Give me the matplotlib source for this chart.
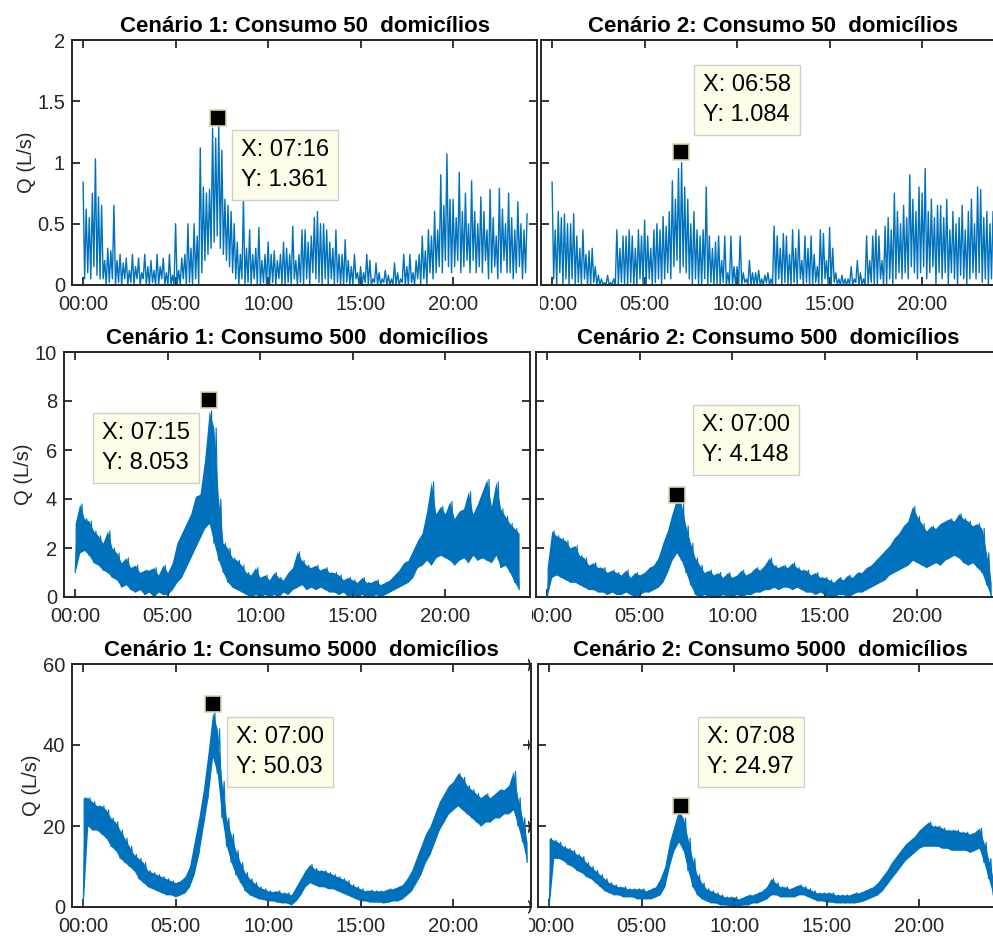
import numpy as np
import matplotlib
matplotlib.use('Agg')
import matplotlib.pyplot as plt
from matplotlib.transforms import Bbox, TransformedBbox

plt.rcParams['font.family'] = ['Liberation Sans', 'DejaVu Sans']

# time axes in hours: 5 min steps for the 50 households runs, 15 min for the others
t5 = np.arange(289) / 12.0
t = np.arange(97) / 4.0

# 50 households: trace read every 5 min (spiky, alternating peaks and gaps)
c1_50 = [0.84, 0.05, 0.62, 0.10, 0.55, 0.05, 0.75, 0.15, 1.03, 0.08, 0.72, 0.05,
         0.65, 0.05, 0.20, 0.00, 0.30, 0.02, 0.28, 0.05, 0.65, 0.00, 0.20, 0.02,
         0.25, 0.00, 0.18, 0.05, 0.22, 0.00, 0.12, 0.02, 0.25, 0.00, 0.15, 0.05,
         0.22, 0.00, 0.10, 0.05, 0.25, 0.00, 0.15, 0.00, 0.20, 0.02, 0.12, 0.00,
         0.25, 0.00, 0.15, 0.05, 0.22, 0.00, 0.10, 0.00, 0.25, 0.00, 0.08, 0.00,
         0.50, 0.00, 0.12, 0.00, 0.22, 0.05, 0.25, 0.00, 0.50, 0.02, 0.30, 0.00,
         0.50, 0.05, 0.40, 0.00, 1.12, 0.10, 0.80, 0.20, 0.75, 0.25, 0.78, 0.30,
         1.28, 0.35, 1.20, 0.40, 1.30, 0.30, 1.10, 0.25, 0.70, 0.20, 0.65, 0.15,
         0.60, 0.10, 0.50, 0.05, 0.35, 0.00, 0.25, 0.05, 0.70, 0.00, 0.30, 0.02,
         0.45, 0.00, 0.25, 0.05, 0.30, 0.00, 0.47, 0.00, 0.20, 0.02, 0.25, 0.00,
         0.35, 0.00, 0.25, 0.02, 0.28, 0.00, 0.20, 0.05, 0.25, 0.00, 0.35, 0.00,
         0.30, 0.02, 0.25, 0.00, 0.48, 0.05, 0.20, 0.00, 0.25, 0.02, 0.45, 0.00,
         0.45, 0.05, 0.35, 0.00, 0.40, 0.10, 0.55, 0.05, 0.60, 0.02, 0.50, 0.00,
         0.50, 0.05, 0.45, 0.00, 0.35, 0.05, 0.30, 0.00, 0.45, 0.02, 0.25, 0.00,
         0.25, 0.00, 0.37, 0.02, 0.20, 0.00, 0.15, 0.00, 0.25, 0.05, 0.10, 0.00,
         0.15, 0.00, 0.10, 0.02, 0.25, 0.00, 0.20, 0.00, 0.05, 0.02, 0.18, 0.00,
         0.10, 0.00, 0.05, 0.02, 0.12, 0.00, 0.08, 0.00, 0.05, 0.00, 0.18, 0.00,
         0.10, 0.00, 0.05, 0.02, 0.25, 0.00, 0.15, 0.00, 0.25, 0.02, 0.10, 0.00,
         0.20, 0.05, 0.25, 0.00, 0.40, 0.05, 0.28, 0.00, 0.45, 0.10, 0.40, 0.05,
         0.60, 0.10, 0.45, 0.15, 0.90, 0.10, 0.65, 0.20, 1.07, 0.15, 0.70, 0.10,
         0.70, 0.15, 0.55, 0.20, 0.92, 0.10, 0.60, 0.15, 0.75, 0.20, 0.50, 0.10,
         0.85, 0.20, 0.60, 0.10, 0.50, 0.15, 0.72, 0.10, 0.60, 0.20, 0.45, 0.05,
         0.78, 0.10, 0.55, 0.15, 0.40, 0.05, 0.79, 0.10, 0.62, 0.20, 0.50, 0.10,
         0.75, 0.10, 0.55, 0.05, 0.45, 0.10, 0.68, 0.15, 0.50, 0.05, 0.45, 0.10,
         0.58]
c2_50 = [0.84, 0.05, 0.45, 0.00, 0.60, 0.10, 0.55, 0.00, 0.58, 0.05, 0.50, 0.00,
         0.50, 0.05, 0.58, 0.00, 0.40, 0.02, 0.30, 0.00, 0.45, 0.05, 0.25, 0.00,
         0.28, 0.00, 0.30, 0.02, 0.15, 0.00, 0.08, 0.00, 0.05, 0.00, 0.02, 0.00,
         0.08, 0.00, 0.02, 0.00, 0.05, 0.00, 0.45, 0.00, 0.30, 0.02, 0.40, 0.00,
         0.40, 0.00, 0.45, 0.02, 0.40, 0.00, 0.30, 0.00, 0.45, 0.05, 0.40, 0.00,
         0.53, 0.00, 0.40, 0.05, 0.30, 0.00, 0.45, 0.02, 0.50, 0.05, 0.45, 0.00,
         0.56, 0.05, 0.48, 0.10, 0.60, 0.05, 0.85, 0.15, 0.70, 0.20, 0.95, 0.10,
         1.00, 0.15, 0.80, 0.10, 0.70, 0.05, 0.50, 0.00, 0.60, 0.05, 0.45, 0.00,
         0.40, 0.00, 0.45, 0.05, 0.80, 0.00, 0.40, 0.02, 0.30, 0.00, 0.35, 0.00,
         0.40, 0.00, 0.20, 0.02, 0.40, 0.00, 0.10, 0.00, 0.40, 0.00, 0.15, 0.00,
         0.15, 0.00, 0.40, 0.00, 0.10, 0.02, 0.05, 0.00, 0.20, 0.00, 0.10, 0.00,
         0.10, 0.00, 0.12, 0.00, 0.05, 0.00, 0.08, 0.02, 0.10, 0.00, 0.05, 0.00,
         0.48, 0.00, 0.40, 0.05, 0.30, 0.00, 0.42, 0.02, 0.40, 0.00, 0.25, 0.00,
         0.45, 0.02, 0.30, 0.00, 0.45, 0.05, 0.20, 0.00, 0.40, 0.02, 0.30, 0.00,
         0.40, 0.00, 0.25, 0.02, 0.15, 0.00, 0.45, 0.00, 0.42, 0.05, 0.20, 0.00,
         0.47, 0.00, 0.30, 0.02, 0.10, 0.00, 0.05, 0.00, 0.08, 0.00, 0.05, 0.00,
         0.05, 0.00, 0.15, 0.00, 0.05, 0.02, 0.20, 0.00, 0.10, 0.00, 0.05, 0.00,
         0.40, 0.00, 0.20, 0.02, 0.40, 0.00, 0.45, 0.00, 0.40, 0.05, 0.20, 0.00,
         0.48, 0.00, 0.55, 0.05, 0.45, 0.00, 0.75, 0.05, 0.60, 0.10, 0.50, 0.05,
         0.65, 0.10, 0.55, 0.05, 0.90, 0.15, 0.70, 0.10, 0.60, 0.05, 0.80, 0.10,
         0.75, 0.15, 0.95, 0.05, 0.60, 0.10, 0.70, 0.15, 0.55, 0.00, 0.65, 0.10,
         0.65, 0.05, 0.55, 0.10, 0.70, 0.00, 0.45, 0.10, 0.60, 0.05, 0.50, 0.00,
         0.55, 0.08, 0.65, 0.05, 0.45, 0.00, 0.60, 0.05, 0.70, 0.10, 0.50, 0.05,
         0.80, 0.10, 0.78, 0.02, 0.55, 0.05, 0.60, 0.00, 0.50, 0.05, 0.60, 0.00,
         0.45]

# 500 and 5000 households: lower / upper edge of the noisy band every 15 min (L/s)
c1_500_lo = [1.0, 1.8, 1.9, 1.7, 1.4, 1.3, 1.1, 1.0, 0.8, 0.7, 0.4, 0.5,
             0.3, 0.2, 0.3, 0.1, 0.2, 0.0, 0.2, 0.1, 0.1, 0.3, 0.6, 0.8,
             1.2, 1.6, 2.0, 2.4, 2.8, 3.0, 2.2, 1.5, 1.0, 0.6, 0.4, 0.3,
             0.2, 0.1, 0.0, 0.1, 0.0, 0.1, 0.0, 0.1, 0.0, 0.2, 0.1, 0.3,
             0.4, 0.5, 0.3, 0.4, 0.3, 0.4, 0.3, 0.2, 0.2, 0.1, 0.2, 0.0,
             0.1, 0.0, 0.1, 0.0, 0.0, 0.1, 0.0, 0.1, 0.2, 0.3, 0.4, 0.5,
             0.6, 0.8, 1.2, 1.3, 1.5, 1.3, 1.6, 1.7, 1.6, 1.5, 1.3, 1.5,
             1.6, 1.4, 1.7, 1.5, 1.6, 1.5, 1.4, 1.7, 1.2, 1.3, 1.0, 0.6,
             0.3]
c1_500_hi = [3.0, 3.8, 3.2, 3.1, 2.7, 2.5, 2.2, 2.7, 2.0, 1.8, 1.4, 1.6,
             1.2, 1.3, 1.0, 1.1, 1.1, 1.2, 0.9, 1.3, 1.0, 1.4, 2.2, 2.6,
             3.0, 3.4, 4.1, 4.2, 5.6, 7.6, 6.9, 4.0, 2.2, 2.0, 1.6, 1.5,
             1.3, 1.0, 0.9, 1.2, 0.8, 0.9, 0.7, 1.0, 0.8, 0.7, 1.0, 1.2,
             1.85, 1.5, 1.3, 1.2, 1.3, 1.1, 1.2, 1.0, 1.0, 0.9, 0.7, 0.8,
             0.7, 0.6, 0.8, 0.6, 0.6, 0.7, 0.5, 0.6, 0.7, 0.9, 1.1, 1.4,
             1.5, 1.9, 2.3, 2.6, 3.5, 4.7, 3.4, 3.7, 3.4, 3.9, 3.2, 3.5,
             3.6, 4.3, 3.4, 3.8, 4.3, 4.8, 3.7, 4.7, 3.6, 3.3, 3.0, 2.8,
             2.6]

c2_500_lo = [0.0, 0.8, 0.9, 0.8, 0.7, 0.6, 0.6, 0.5, 0.4, 0.3, 0.3, 0.2,
             0.2, 0.1, 0.2, 0.1, 0.1, 0.2, 0.1, 0.0, 0.1, 0.2, 0.2, 0.3,
             0.4, 0.6, 1.0, 1.5, 1.8, 1.5, 1.0, 0.5, 0.1, 0.0, 0.1, 0.0,
             0.0, 0.0, 0.1, 0.0, 0.0, 0.1, 0.0, 0.1, 0.1, 0.2, 0.2, 0.3,
             0.3, 0.4, 0.3, 0.4, 0.4, 0.3, 0.4, 0.3, 0.2, 0.2, 0.1, 0.2,
             0.1, 0.0, 0.0, 0.1, 0.1, 0.0, 0.1, 0.2, 0.2, 0.3, 0.4, 0.5,
             0.6, 0.7, 0.9, 1.0, 1.1, 1.2, 1.3, 1.5, 1.4, 1.3, 1.2, 1.3,
             1.4, 1.3, 1.5, 1.6, 1.7, 1.6, 1.4, 1.3, 1.4, 1.2, 1.0, 0.5,
             0.0]
c2_500_hi = [1.2, 2.7, 2.5, 2.4, 2.3, 2.0, 2.1, 1.7, 1.6, 1.3, 1.4, 1.2,
             1.2, 1.0, 1.1, 1.0, 0.9, 1.1, 0.8, 1.0, 0.9, 1.0, 1.2, 1.3,
             1.6, 2.2, 2.7, 3.4, 4.0, 3.8, 2.9, 2.2, 1.6, 1.3, 1.0, 1.1,
             0.9, 1.0, 0.8, 1.0, 0.8, 0.9, 1.1, 0.9, 1.0, 1.2, 1.1, 1.3,
             1.6, 1.3, 1.2, 1.3, 1.2, 1.4, 1.2, 1.1, 1.1, 0.9, 1.0, 0.8,
             0.8, 0.7, 0.6, 0.8, 0.7, 0.9, 0.8, 1.0, 1.0, 1.2, 1.3, 1.5,
             1.7, 1.9, 2.1, 2.4, 2.6, 2.9, 3.1, 3.7, 3.3, 3.0, 2.7, 2.9,
             2.8, 3.0, 3.1, 3.2, 3.1, 3.4, 3.2, 3.1, 2.9, 3.0, 2.8, 1.8,
             0.6]

c1_5000_lo = [0, 20, 19, 19, 18, 17, 15, 14, 12, 11, 10, 9,
              7, 6, 5, 4.5, 4, 3.5, 3, 3, 2.5, 3, 3.5, 5,
              8, 13, 20, 27, 37, 33, 22, 15, 11, 8, 6, 4,
              3, 2.5, 2, 1.8, 1.5, 1.5, 1.2, 1.0, 1.0, 0.5, 1.5, 3,
              5, 6, 5.5, 5, 5, 4.5, 4.5, 4, 3.5, 3, 2.5, 2,
              1.5, 1.5, 1.2, 1.2, 1.2, 1.0, 1.2, 1.5, 1.5, 2, 3, 4,
              6, 8, 11, 13, 16, 19, 21, 23, 24, 25, 24, 23,
              22, 21, 20, 21, 21, 22, 22, 23, 23, 24, 20, 16,
              11]
c1_5000_hi = [27, 27, 26, 25, 25, 24, 22, 21, 19, 17, 15, 13,
              12, 11, 9, 8.5, 8, 7.5, 7, 6.5, 6, 6.5, 7.5, 10,
              16, 22, 29, 38, 48, 44, 31, 22, 18, 14, 11, 8.5,
              7, 6, 5, 4.5, 4, 3.8, 4, 3.5, 3.5, 3, 5, 7,
              9, 10.5, 9.5, 9, 9, 8.5, 8, 7.5, 7, 6.5, 5.5, 5,
              4.5, 4, 4.2, 4, 4, 4, 4.5, 4.5, 5, 5.5, 7, 9,
              12, 15, 18, 20, 23, 26, 28, 30, 31, 33, 32, 30,
              29, 28, 27, 28, 27, 28, 29, 29, 30, 33.5, 27, 22,
              16]

c2_5000_lo = [0, 12, 12, 11.5, 10.5, 10, 9, 8.5, 7.5, 7, 6, 5,
              4, 3.5, 3, 3, 2.5, 2.5, 2.5, 2, 2, 2, 2, 2.5,
              3, 5, 10, 14, 16, 14, 9, 5, 3, 2, 1.5, 1,
              1, 0.5, 0.5, 0.3, 0.3, 0.3, 0.5, 0.5, 1, 1, 1.5, 2,
              3, 3, 2.5, 2.5, 2.5, 2.5, 3, 3, 2.5, 2, 1.5, 1.5,
              1.2, 1.2, 1, 1, 1, 1, 1, 1.2, 1.5, 2, 2.5, 3,
              4, 5.5, 7, 8.5, 10, 11.5, 12.5, 13.5, 14.5, 15, 15, 15,
              15, 14.5, 14.5, 14, 14, 14, 14, 13.5, 14, 14.5, 11, 7,
              3]
c2_5000_hi = [17, 16.5, 16, 15, 14.5, 14, 13, 12.5, 11, 10, 9, 8,
              7, 6, 5.5, 5, 5, 4.5, 4.5, 4.5, 4.5, 4, 4.5, 5,
              7, 10, 16, 20, 24, 22, 17, 12, 8, 6, 4.5, 4,
              3.5, 3, 2.5, 2.5, 2.5, 2, 2.5, 3, 3, 3.5, 4, 5,
              7, 6, 5, 5, 4.5, 5, 5.5, 5, 4.5, 4, 3.5, 3.5,
              3.5, 3.5, 3, 3, 3, 3, 3.5, 3.5, 4, 4.5, 5, 6,
              7.5, 9, 11, 12.5, 14, 15.5, 16.5, 17.5, 19, 20, 21, 20,
              20, 19.5, 19, 19, 19, 18.5, 18.5, 18, 18.5, 19.5, 16, 12,
              7]

titles = ['Cenário 1: Consumo 50  domicílios', 'Cenário 2: Consumo 50  domicílios',
          'Cenário 1: Consumo 500  domicílios', 'Cenário 2: Consumo 500  domicílios',
          'Cenário 1: Consumo 5000  domicílios', 'Cenário 2: Consumo 5000  domicílios']
tip_x = [7 + 16/60, 6 + 58/60, 7 + 15/60, 7.0, 7.0, 7 + 8/60]
tip_y = [1.361, 1.084, 8.053, 4.148, 50.03, 24.97]
tip_txt = ['X: 07:16\nY: 1.361', 'X: 06:58\nY: 1.084', 'X: 07:15\nY: 8.053',
           'X: 07:00\nY: 4.148', 'X: 07:00\nY: 50.03', 'X: 07:08\nY: 24.97']
xticks = [0, 5, 10, 15, 20]
xlabels = ['00:00', '05:00', '10:00', '15:00', '20:00']
yticks = [[0, 0.5, 1, 1.5, 2], [0, 2, 4, 6, 8, 10], [0, 20, 40, 60]]
ylabels = [['0', '0.5', '1', '1.5', '2'], ['0', '2', '4', '6', '8', '10'],
           ['0', '20', '40', '60']]

bands = {2: (c1_500_lo, c1_500_hi), 3: (c2_500_lo, c2_500_hi),
         4: (c1_5000_lo, c1_5000_hi), 5: (c2_5000_lo, c2_5000_hi)}
spiky = {0: c1_50, 1: c2_50}

W, H = 993, 936
BLUE = '#0072BD'
DARK = '#262626'
PXH = 18.5  # pixels per hour

fig = plt.figure(figsize=(W/100, H/100), dpi=100)

# axes boxes in pixels (left, top, right, bottom)
boxes = [(72, 40, 537, 285), (541, 40, 1006, 285),
         (64, 352, 530, 597), (536, 352, 1001, 597),
         (72, 664, 531, 907), (538, 664, 1003, 907)]
clip_left = [None, 540, None, 532, None, 529]
# data tip boxes (left, top) in pixels
tip_box = [(231, 130), (693, 65), (92, 413), (692, 405), (226, 717), (697, 717)]

for i in range(6):
    x0, y0, x1, y1 = boxes[i]
    ax = fig.add_axes([x0/W, 1 - y1/H, (x1 - x0)/W, (y1 - y0)/H])
    row = i // 2
    if i in spiky:
        ax.plot(t5, spiky[i], color=BLUE, lw=1.0)
    else:
        lo = np.array(bands[i][0], dtype=float)
        hi = np.array(bands[i][1], dtype=float)
        tz = np.column_stack([t, t + 0.125]).ravel()[:-1]
        yz = np.column_stack([lo, hi]).ravel()[:-1]
        ax.fill_between(t, lo, hi, color=BLUE, lw=0)
        ax.plot(tz, yz, color=BLUE, lw=0.8)

    ax.set_xlim(-0.6, -0.6 + (x1 - x0) / PXH)
    ax.set_ylim(0, yticks[row][-1])
    ax.set_xticks(xticks)
    ax.set_xticklabels(xlabels)
    ax.set_yticks(yticks[row])
    ax.tick_params(direction='in', length=5.5, width=1.3, colors=DARK,
                   labelsize=14.5, top=True, right=True)
    ax.tick_params(axis='x', pad=7)
    ax.tick_params(axis='y', pad=5)
    if i % 2 == 0:
        ax.set_yticklabels(ylabels[row])
        ax.set_ylabel('Q (L/s)', fontsize=14.5, color=DARK, labelpad=1)
    else:
        cb = TransformedBbox(Bbox([[clip_left[i]/W, 0], [1, 1]]), fig.transFigure)
        for lab in ax.get_xticklabels():
            lab.set_clip_box(cb)
            lab.set_clip_on(True)
        if i == 5:
            # only the last pixels of the hidden y labels peek out between panels
            ax.set_yticklabels(ylabels[row])
            cy = TransformedBbox(Bbox([[528/W, 0], [536/W, 1]]), fig.transFigure)
            for lab in ax.get_yticklabels():
                lab.set_clip_box(cy)
                lab.set_clip_on(True)
        else:
            ax.set_yticklabels([])
    for s in ax.spines.values():
        s.set_linewidth(1.4)
        s.set_color(DARK)
    ax.set_title(titles[i], fontsize=16, fontweight='bold', pad=6)

    # data tip
    ax.plot(tip_x[i], tip_y[i], marker='s', ms=11, mfc='black', mec='#d8d4a8',
            mew=1.2, clip_on=False, zorder=5)
    bx, by = tip_box[i]
    fig.text((bx + 10)/W, 1 - (by + 9)/H, tip_txt[i], fontsize=17, ha='left',
             va='top', linespacing=1.45, color='black',
             bbox=dict(boxstyle='square,pad=0.38', fc='#fefee8', ec='#cfcfcf', lw=1))

fig.savefig('out.png', dpi=100)
